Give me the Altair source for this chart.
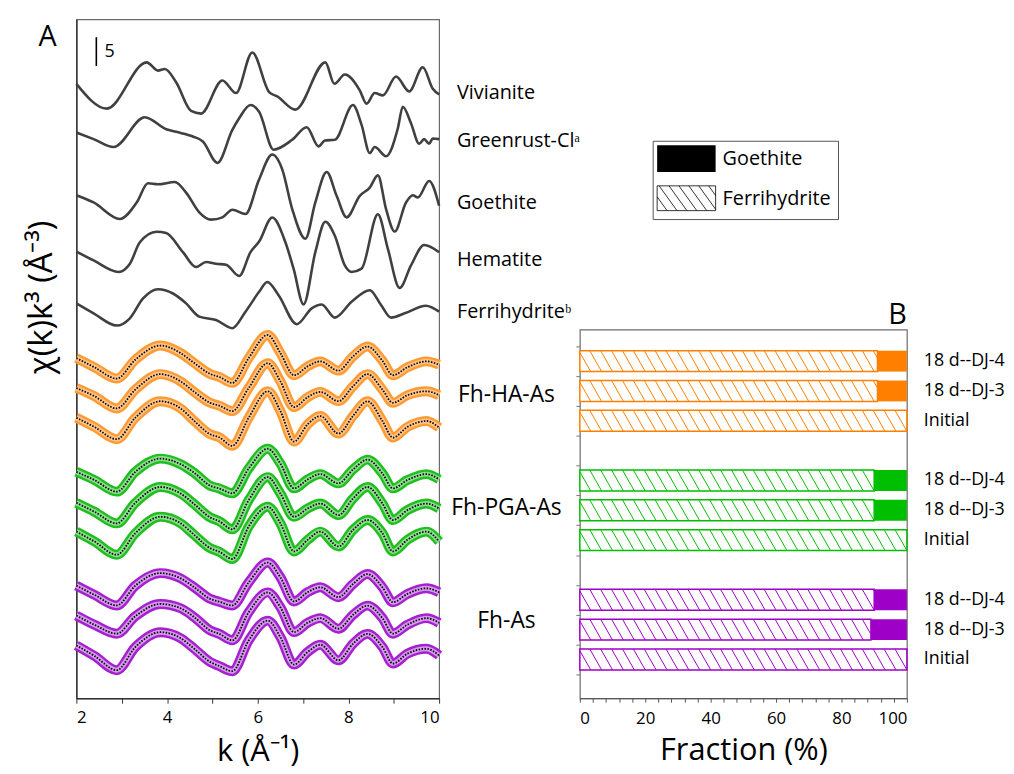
import altair as alt
import pandas as pd

FONT = "Open Sans"

# ---------------- Panel A data (chi(k)k^3) ----------------
ref_names = ["Vivianite", "Greenrust-Clᵃ", "Goethite", "Hematite", "Ferrihydriteᵇ"]

viv_k = [2.00, 2.67, 3.55, 3.80, 3.95, 4.20, 4.53, 4.75, 5.22, 5.52, 5.88, 6.25, 6.43, 6.83, 7.49, 7.69,
         7.92, 8.25, 8.40, 8.58, 8.76, 9.05, 9.34, 9.64, 9.86, 10.0]
viv_chi = [0.29, -4.02, 4.02, 2.59, 2.87, 0.57, -4.43, -4.89, 0.86, -1.32, 5.75, -1.15, -1.90, -4.2, 4.02, 0.29,
           1.90, -0.86, -3.16, -1.32, -1.72, 1.55, -1.03, 3.16, -0.57, -1.55]

gr_k = [2.00, 2.38, 2.82, 3.51, 3.98, 4.20, 4.57, 4.79, 5.11, 5.44, 5.59, 5.84, 6.03, 6.35, 6.76, 7.08,
        7.34, 7.48, 7.70, 8.10, 8.29, 8.47, 8.58, 8.83, 9.09, 9.20, 9.38, 9.56, 9.67, 9.78, 9.86, 10.0]
gr_chi = [0.11, -1.03, -2.41, 2.76, 0.69, 0.23, -0.57, -1.44, -5.17, 0.57, 2.59, 4.89, 3.74, -2.87, -1.15, 1.03,
          -2.30, -1.26, -1.15, 4.89, 1.44, -3.45, -2.41, -4.02, 0.86, 4.60, 1.72, -1.84, -1.03, -1.84, -0.92, -1.03]

go_k = [2.00, 2.38, 2.96, 3.33, 3.58, 3.80, 4.17, 4.42, 4.71, 4.97, 5.22, 5.44, 5.73, 6.03, 6.32, 6.54,
        6.76, 7.05, 7.27, 7.52, 7.74, 7.96, 8.25, 8.47, 8.65, 8.83, 9.02, 9.27, 9.42, 9.53, 9.78, 10.0]
go_chi = [0.11, -1.15, -4.02, -1.15, 2.18, 2.01, 2.41, 0.57, -2.87, -4.14, -3.74, -2.41, -3.16, 2.87, 7.18, 4.60,
          -2.30, -7.47, -1.15, 4.14, 0.0, -3.74, 0.0, 1.44, 3.56, -2.30, -6.21, -1.15, 0.11, -0.29, 2.59, -1.72]

he_k = [2.00, 2.38, 2.93, 3.18, 3.40, 3.77, 3.98, 4.35, 4.64, 4.86, 5.08, 5.30, 5.59, 5.84, 6.03, 6.32,
        6.61, 6.79, 7.01, 7.27, 7.49, 7.70, 7.92, 8.07, 8.29, 8.65, 8.87, 9.13, 9.38, 9.67, 10.0]
he_chi = [0.11, -1.44, -3.45, -2.01, 1.72, 3.56, 3.33, 0.0, -2.59, -1.72, -2.01, -2.18, -4.14, 0.0, 1.84, 6.03,
          1.72, -2.87, -9.08, 0.0, 5.29, 2.87, -2.30, -3.45, -2.87, 6.61, 0.57, -6.21, -2.30, 1.26, 0.0]

fh_k = [2.00, 2.38, 2.89, 3.18, 3.47, 3.80, 4.13, 4.42, 4.71, 5.08, 5.44, 5.73, 6.03, 6.21, 6.46, 6.86,
        7.19, 7.41, 7.70, 8.07, 8.47, 8.72, 8.94, 9.24, 9.71, 10.0]
fh_chi = [0.29, -1.44, -3.56, -2.30, 1.15, 2.76, 2.01, 0.29, -2.01, -2.59, -4.02, -1.15, 2.30, 4.02, 1.72, -3.33,
          -0.57, 0.11, -2.18, 0.57, 2.59, 0.0, -2.18, -1.44, -0.11, -1.15]

ref_k = [viv_k, gr_k, go_k, he_k, fh_k]
ref_chi = [viv_chi, gr_chi, go_chi, he_chi, fh_chi]
ref_offset = [106.6, 98.3, 87.4, 77.6, 68.4]

groups = ["Fh-HA-As", "Fh-PGA-As", "Fh-As"]
samples = ["18 d--DJ-4", "18 d--DJ-3", "Initial"]

sample_k = [2.00, 2.40, 2.89, 3.30, 3.85, 4.30, 4.60, 4.95, 5.15, 5.44, 5.80, 6.22, 6.50, 6.80, 7.10, 7.38,
            7.78, 8.10, 8.42, 8.75, 8.98, 9.30, 9.72, 10.00]
ha_dj4 = [0.57, -1.03, -2.99, 0.29, 2.76, 1.44, -0.29, -2.18, -2.70, -3.74, 0.57, 4.60, 1.44, -2.41, -0.86, 0.0,
          -1.61, 0.86, 2.59, 0.11, -2.41, -1.03, 0.0, -0.57]
ha_dj3 = [0.57, -0.86, -2.99, 0.29, 2.99, 1.72, -0.11, -2.01, -2.50, -3.45, 0.57, 4.89, 1.72, -2.76, -1.03, -0.11,
          -1.72, 0.86, 2.99, 0.29, -2.01, -0.69, 0.0, -0.69]
ha_ini = [0.0, -1.61, -3.74, 0.0, 2.87, 1.61, -0.57, -2.87, -3.40, -4.89, 0.0, 4.60, 1.15, -4.14, -1.15, 0.29,
          -2.76, 0.29, 2.87, -0.57, -3.45, -1.61, -0.57, -1.72]
pga_dj4 = [0.29, -1.15, -3.16, 0.29, 2.59, 1.61, 0.11, -2.13, -2.60, -3.45, 0.86, 4.31, 1.72, -2.59, -1.03, -0.11,
           -1.72, 0.69, 2.41, 0.0, -2.59, -1.15, -0.11, -1.03]
pga_dj3 = [0.29, -1.26, -3.28, 0.29, 3.05, 1.90, 0.06, -2.24, -2.90, -4.31, 0.75, 4.77, 1.90, -2.13, -0.69, 0.17,
           -1.84, 1.03, 3.05, 0.17, -2.70, -0.98, 0.17, -0.69]
pga_ini = [0.29, -1.44, -3.74, 0.0, 2.87, 1.72, -0.29, -2.59, -3.20, -4.48, 1.15, 4.60, 1.72, -3.16, -1.15, 0.29,
           -2.30, 0.57, 2.30, 0.0, -3.16, -1.15, 0.29, -1.44]
as_dj4 = [0.29, -1.32, -3.16, 0.29, 2.47, 1.55, 0.0, -2.01, -2.50, -3.16, 0.86, 4.31, 1.72, -2.47, -0.86, 0.0,
          -1.72, 0.57, 2.30, 0.0, -2.59, -1.15, -0.17, -0.86]
as_dj3 = [0.29, -1.32, -2.87, 0.17, 2.30, 1.55, 0.0, -2.30, -2.90, -4.02, 0.86, 4.31, 1.72, -2.59, -0.98, -0.17,
          -2.01, 0.40, 2.01, -0.17, -2.87, -1.32, -0.17, -0.98]
as_ini = [0.29, -1.55, -4.02, 0.0, 2.59, 1.55, -0.29, -2.59, -3.30, -4.20, 1.15, 4.60, 1.72, -3.05, -0.86, 0.40,
          -2.30, 0.57, 2.30, 0.0, -2.87, -1.15, -0.29, -1.44]
sample_chi = [[ha_dj4, ha_dj3, ha_ini], [pga_dj4, pga_dj3, pga_ini], [as_dj4, as_dj3, as_ini]]
sample_offset = [[58.6, 53.4, 48.8], [39.1, 33.7, 28.7], [19.3, 14.1, 8.9]]

# ---------------- Panel B data (fractions, %) ----------------
ferrihydrite_pct = [[91, 91, 100], [90, 90, 100], [90, 89, 100]]
goethite_pct = [[9, 9, 0], [10, 10, 0], [10, 11, 0]]

# ---------------- styles ----------------
band_color = {"Fh-HA-As": "#FF9B33", "Fh-PGA-As": "#1FBF1F", "Fh-As": "#A61FD0"}
inner_color = {"Fh-HA-As": "#FFC58A", "Fh-PGA-As": "#8EDD8E", "Fh-As": "#D39BEA"}
bar_color = {"Fh-HA-As": "#FF8000", "Fh-PGA-As": "#00BF00", "Fh-As": "#9F00C8"}

# ---------------- tables ----------------
ref_rows = []
for name, ks, cs, off in zip(ref_names, ref_k, ref_chi, ref_offset):
    for k, c in zip(ks, cs):
        ref_rows.append({"curve": name, "k": k, "y": c + off})
ref_df = pd.DataFrame(ref_rows)

samp_rows = []
for g, grp in enumerate(groups):
    for i, s in enumerate(samples):
        for k, c in zip(sample_k, sample_chi[g][i]):
            samp_rows.append({"curve": f"{grp} {s}", "group": grp, "k": k,
                              "y": c + sample_offset[g][i],
                              "band": band_color[grp], "inner": inner_color[grp]})
samp_df = pd.DataFrame(samp_rows)

ref_lab_df = pd.DataFrame({"name": ref_names, "y": [o - 1.3 for o in ref_offset]})
grp_lab_df = pd.DataFrame({"name": groups, "y": [sample_offset[g][1] - 0.6 for g in range(3)]})

W_A, H_A = 366, 685
Y_TOP = H_A / 5.8
xA = alt.X("k:Q", scale=alt.Scale(domain=[2, 10], nice=False),
           axis=alt.Axis(values=list(range(2, 11)),
                         labelExpr="datum.value % 2 == 0 ? datum.label : ''",
                         tickSize=5, labelFontSize=17, labelPadding=6, grid=False,
                         title="k (Å⁻¹)", titleFontSize=31, titlePadding=12,
                         domainColor="#333", tickColor="#333", domainWidth=1.5))
yA = alt.Y("y:Q", scale=alt.Scale(domain=[0, Y_TOP], nice=False),
           axis=alt.Axis(labels=False, ticks=False, grid=False, domainColor="#333", domainWidth=1.5,
                         title="χ(k)k³ (Å⁻³)", titleFontSize=33, titlePadding=18, titleY=280))

refs = alt.Chart(ref_df).mark_line(color="#404040", strokeWidth=2.6, interpolate="monotone").encode(
    x=xA, y=yA, detail="curve:N")
band = alt.Chart(samp_df).mark_line(strokeWidth=10, interpolate="monotone").encode(
    x=xA, y=yA, detail="curve:N", color=alt.Color("band:N", scale=None))
inner = alt.Chart(samp_df).mark_line(strokeWidth=5, interpolate="monotone").encode(
    x=xA, y=yA, detail="curve:N", color=alt.Color("inner:N", scale=None))
fit = alt.Chart(samp_df).mark_line(color="black", strokeWidth=1.8, strokeDash=[1.5, 1.5],
                                   interpolate="monotone").encode(x=xA, y=yA, detail="curve:N")

bar_df = pd.DataFrame({"k": [2.44], "y": [110.0], "y2": [115.0], "t": ["5"], "kt": [2.62], "yt": [112.5]})
scalebar = alt.Chart(bar_df).mark_rule(color="black", strokeWidth=1.6).encode(x=xA, y=yA, y2="y2:Q")
scaletxt = alt.Chart(bar_df).mark_text(align="left", baseline="middle", fontSize=18, font=FONT).encode(
    x=alt.X("kt:Q", scale=alt.Scale(domain=[2, 10], nice=False)),
    y=alt.Y("yt:Q", scale=alt.Scale(domain=[0, Y_TOP], nice=False)), text="t:N")

ref_labels = alt.Chart(ref_lab_df).mark_text(align="left", baseline="middle", fontSize=20, font=FONT).encode(
    x=alt.value(384), y=alt.Y("y:Q", scale=alt.Scale(domain=[0, Y_TOP], nice=False)), text="name:N")
grp_labels = alt.Chart(grp_lab_df).mark_text(align="center", baseline="middle", fontSize=23, font=FONT).encode(
    x=alt.value(434), y=alt.Y("y:Q", scale=alt.Scale(domain=[0, Y_TOP], nice=False)), text="name:N")
letterA = alt.Chart(pd.DataFrame({"t": ["A"]})).mark_text(align="center", baseline="middle", fontSize=29,
                                                           font=FONT).encode(
    x=alt.value(-29), y=alt.value(18), text="t:N")

panelA = alt.layer(refs, band, inner, fit, scalebar, scaletxt, ref_labels, grp_labels, letterA).properties(
    width=W_A, height=H_A)

# ---------------- Panel B ----------------
W_B, H_B = 330, 372
Y_LO, Y_HI = -0.3, -0.3 + H_B / 30.1
BAR_H = 0.70
PX_PER_PCT = W_B / 100.0


def hatch_segments(x0, x1, ytop, ybot, spacing, run):
    segs = []
    s = x0 - run
    while s < x1:
        t_lo = max(0.0, (x0 - s) / run)
        t_hi = min(1.0, (x1 - s) / run)
        if t_hi > t_lo:
            segs.append((s + run * t_lo, ytop + (ybot - ytop) * t_lo,
                         s + run * t_hi, ytop + (ybot - ytop) * t_hi))
        s += spacing
    return segs


bar_rows, hatch_rows = [], []
for g, grp in enumerate(groups):
    for i, s in enumerate(samples):
        pos = 11 - 4 * g - i
        f = ferrihydrite_pct[g][i]
        bar_rows.append({"label": s, "pos": pos, "lo": pos - BAR_H / 2, "hi": pos + BAR_H / 2,
                         "zero": 0, "ferri": f, "end": f + goethite_pct[g][i],
                         "goe": goethite_pct[g][i], "color": bar_color[grp]})
        for (xa, ya, xb, yb) in hatch_segments(0, f, pos + BAR_H / 2, pos - BAR_H / 2,
                                               11 / PX_PER_PCT, 12 / PX_PER_PCT):
            hatch_rows.append({"x": xa, "y": ya, "x2": xb, "y2": yb, "color": bar_color[grp]})
bars_df = pd.DataFrame(bar_rows)
hatch_df = pd.DataFrame(hatch_rows)

xB_scale = alt.Scale(domain=[0, 100], nice=False)
yB_scale = alt.Scale(domain=[Y_LO, Y_HI], nice=False)
xB_axis = alt.Axis(values=list(range(0, 101, 4)), labelExpr="datum.value % 20 == 0 ? datum.label : ''",
                   tickSize=4, labelFontSize=17, labelPadding=8, grid=False,
                   title="Fraction (%)", titleFontSize=31, titlePadding=10,
                   domainColor="#555", tickColor="#555")
yB_axis = alt.Axis(values=[n + 0.5 for n in range(12)], labels=False, tickSize=4, domain=False,
                   grid=False, title=None, tickColor="#777")

outline = alt.Chart(bars_df).mark_rect(fill="white", strokeWidth=1.5).encode(
    x=alt.X("zero:Q", scale=xB_scale, axis=xB_axis), x2="ferri:Q",
    y=alt.Y("lo:Q", scale=yB_scale, axis=yB_axis), y2="hi:Q",
    stroke=alt.Color("color:N", scale=None))
hatch = alt.Chart(hatch_df).mark_rule(strokeWidth=1).encode(
    x=alt.X("x:Q", scale=xB_scale, axis=xB_axis), x2="x2:Q",
    y=alt.Y("y:Q", scale=yB_scale, axis=yB_axis), y2="y2:Q",
    color=alt.Color("color:N", scale=None))
goe = alt.Chart(bars_df).transform_filter("datum.goe > 0").mark_rect().encode(
    x=alt.X("ferri:Q", scale=xB_scale, axis=xB_axis), x2="end:Q",
    y=alt.Y("lo:Q", scale=yB_scale, axis=yB_axis), y2="hi:Q",
    fill=alt.Color("color:N", scale=None))
blabels = alt.Chart(bars_df).mark_text(align="left", baseline="middle", fontSize=18, font=FONT).encode(
    x=alt.value(W_B + 17), y=alt.Y("pos:Q", scale=yB_scale, axis=yB_axis), text="label:N")

panelB = alt.layer(outline, hatch, goe, blabels).properties(width=W_B, height=H_B)

# ---------------- legend panel ----------------
H_L = 303
one = pd.DataFrame({"d": [0]})
leg_box = alt.Chart(one).mark_rect(fill="white", stroke="#555", strokeWidth=1).encode(
    x=alt.value(74), x2=alt.value(261), y=alt.value(123), y2=alt.value(202))
leg_black = alt.Chart(one).mark_rect(fill="black").encode(
    x=alt.value(78), x2=alt.value(137), y=alt.value(127), y2=alt.value(154))
leg_hrect = alt.Chart(one).mark_rect(fill="white", stroke="black", strokeWidth=0.8).encode(
    x=alt.value(78), x2=alt.value(137), y=alt.value(168), y2=alt.value(193))
leg_h = pd.DataFrame([{"x": a, "y": b, "x2": c, "y2": d}
                      for (a, b, c, d) in hatch_segments(78, 137, 168, 193, 10, 18)])
leg_hatch = alt.Chart(leg_h).mark_rule(color="black", strokeWidth=0.8).encode(
    x=alt.X("x:Q", scale=None), x2="x2:Q", y=alt.Y("y:Q", scale=None), y2="y2:Q")
leg_text = alt.Chart(pd.DataFrame({"t": ["Goethite", "Ferrihydrite"], "yy": [141, 181]})).mark_text(
    align="left", baseline="middle", fontSize=20, font=FONT).encode(
    x=alt.value(144), y=alt.Y("yy:Q", scale=None), text="t:N")
letterB = alt.Chart(pd.DataFrame({"t": ["B"]})).mark_text(align="right", baseline="alphabetic",
                                                           fontSize=29, font=FONT).encode(
    x=alt.value(W_B), y=alt.value(307), text="t:N")
legend_panel = alt.layer(leg_box, leg_black, leg_hrect, leg_hatch, leg_text, letterB).properties(
    width=W_B, height=H_L, view=alt.ViewBackground(stroke="transparent"))

right = alt.vconcat(legend_panel, panelB, spacing=10, bounds="flush")

chart = alt.hconcat(panelA, right, spacing=142, bounds="flush").properties(
    padding={"left": 17, "top": 7, "right": 0, "bottom": 4}
).configure(font=FONT).configure_view(stroke="#6b6b6b", strokeWidth=1.2).configure_axis(
    labelColor="black", titleColor="black", titleFontWeight="normal", labelFont=FONT, titleFont=FONT)

chart.save("out.html", embed_options={"renderer": "svg", "actions": False})
